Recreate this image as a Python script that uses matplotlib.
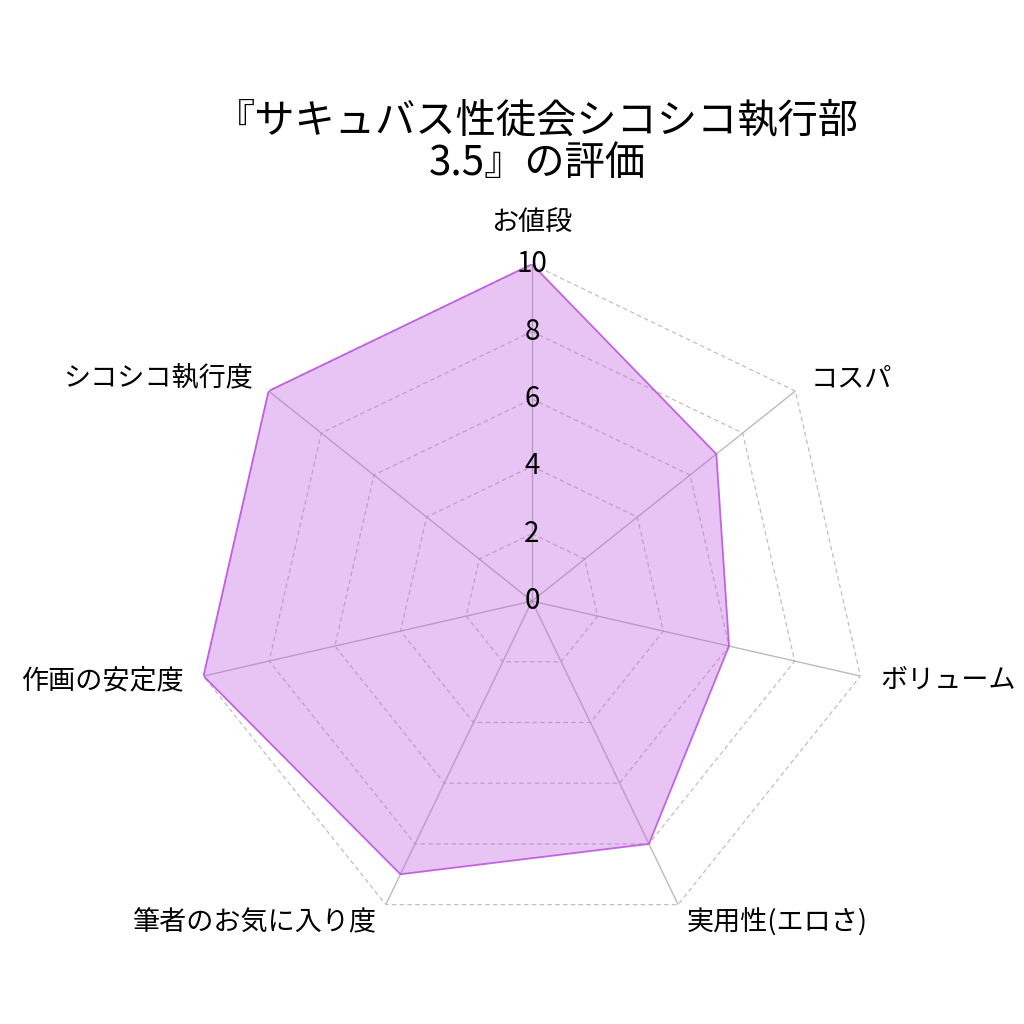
import numpy as np
import matplotlib
matplotlib.use("Agg")
import matplotlib.pyplot as plt

plt.rcParams['font.family'] = ['Noto Sans CJK JP', 'DejaVu Sans']

title = "『サキュバス性徒会シコシコ執行部\n3.5』の評価"
categories = ["お値段", "コスパ", "ボリューム", "実用性(エロさ)",
              "筆者のお気に入り度", "作画の安定度", "シコシコ執行度"]
values = [10, 7, 6, 8, 9, 10, 10]
ticks = [0, 2, 4, 6, 8, 10]

N = len(categories)
angles = np.linspace(0, 2 * np.pi, N, endpoint=False)
ang_c = np.concatenate([angles, angles[:1]])
val_c = np.concatenate([values, values[:1]])

fig = plt.figure(figsize=(10.24, 10.24), dpi=100)
ax = fig.add_axes([0.1905, 0.084, 0.658, 0.658], projection='polar')
ax.set_theta_offset(np.pi / 2)
ax.set_theta_direction(-1)
ax.set_ylim(0, 10)
ax.grid(False)
ax.spines['polar'].set_visible(False)
ax.set_xticks([])
ax.set_yticks([])
ax.patch.set_alpha(0)

# polygon grid rings (dashed)
for t in ticks[1:]:
    ax.plot(ang_c, [t] * (N + 1), color='#d2d2d2', lw=0.8, ls=(0, (4, 3)), zorder=1)
# spokes
for a in angles:
    ax.plot([a, a], [0, 10], color='#d0d0d0', lw=0.9, zorder=1)

color = '#bd56e0'
ax.fill(ang_c, val_c, color=color, alpha=0.35, lw=0, zorder=2)
ax.plot(ang_c, val_c, color=color, lw=1.3, alpha=0.9, zorder=3)
# spokes/grid visible over the fill
for t in ticks[1:]:
    ax.plot(ang_c, [t] * (N + 1), color='#a080a8', lw=0.8, ls=(0, (4, 3)), alpha=0.3, zorder=2.5)
for a in angles:
    ax.plot([a, a], [0, 10], color='#9a7aa4', lw=0.9, alpha=0.3, zorder=2.5)

# radial tick labels
for t in ticks:
    ax.text(0, t, str(t), ha='center', va='center', fontsize=20, color='black', zorder=5)

# category labels
for a, lab in zip(angles, categories):
    s = np.sin(a)
    if abs(s) < 1e-6:
        ax.text(a, 11.2, lab, ha='center', va='center', fontsize=19.5)
    elif s > 0:
        ax.text(a, 10.6, lab, ha='left', va='center', fontsize=19.5)
    else:
        ax.text(a, 10.6, lab, ha='right', va='center', fontsize=19.5)

fig.text(537 / 1024, 1 - 143 / 1024, title, ha='center', va='center',
         fontsize=29, linespacing=1.03)

fig.savefig('out.png', dpi=100)
